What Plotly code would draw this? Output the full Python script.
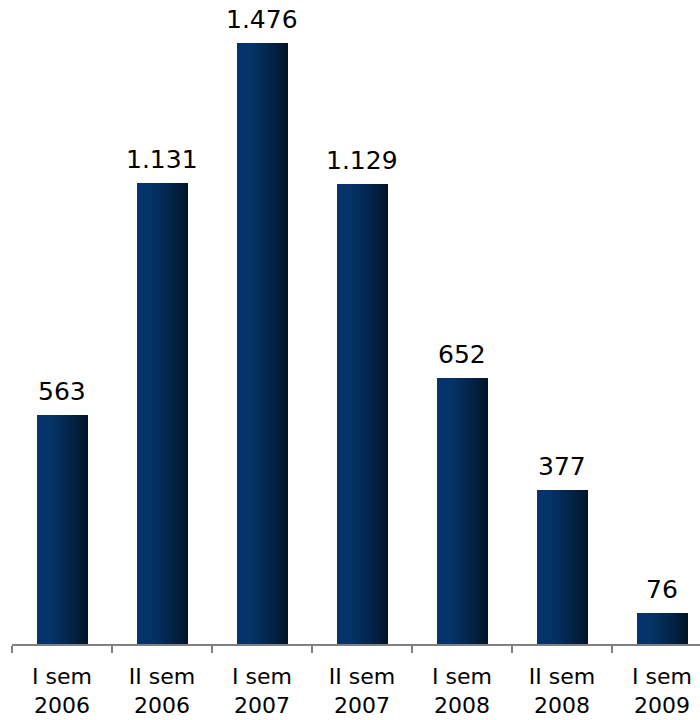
import plotly.graph_objects as go

# Semester labels and values
categories = ["I sem<br>2006", "II sem<br>2006", "I sem<br>2007", "II sem<br>2007",
              "I sem<br>2008", "II sem<br>2008", "I sem<br>2009"]
values = [563, 1131, 1476, 1129, 652, 377, 76]
value_labels = ["563", "1.131", "1.476", "1.129", "652", "377", "76"]

# Horizontal gradient built from thin overlaid bar slices
left_rgb = (4, 52, 106)
right_rgb = (2, 21, 43)
n_slices = 26
bar_width = 0.51

fig = go.Figure()
for i in range(n_slices):
    t = i / (n_slices - 1)
    # keep the left part bright, darken towards the right edge
    k = max(0.0, (t - 0.25) / 0.75) ** 1.1
    rgb = tuple(round(a + (b - a) * k) for a, b in zip(left_rgb, right_rgb))
    w = bar_width / n_slices
    fig.add_trace(go.Bar(
        x=categories, y=values,
        width=w * 1.15 if i < n_slices - 1 else w,
        offset=-bar_width / 2 + i * w,
        marker=dict(color="rgb(%d,%d,%d)" % rgb, line=dict(width=0)),
        hoverinfo="skip", showlegend=False,
    ))

for cat, v, lab in zip(categories, values, value_labels):
    fig.add_annotation(x=cat, y=v, text=lab, showarrow=False,
                       yanchor="bottom", yshift=7,
                       font=dict(family="DejaVu Sans", size=25, color="#000000"))

fig.update_layout(
    width=700, height=720,
    margin=dict(l=12, r=0, t=33, b=76),
    paper_bgcolor="white", plot_bgcolor="white",
    barmode="overlay", bargap=0,
    xaxis=dict(type="category", range=[-0.5, 6.38],
               showline=True, linecolor="#808080", linewidth=1.5,
               ticks="outside", tickson="boundaries", ticklen=7,
               tickcolor="#808080", tickwidth=1.5,
               ticklabelstandoff=12,
               tickfont=dict(family="DejaVu Sans", size=22, color="#000000"),
               showgrid=False, zeroline=False),
    yaxis=dict(range=[0, 1500], visible=False, showgrid=False, zeroline=False),
)

fig.write_html("out.html")
